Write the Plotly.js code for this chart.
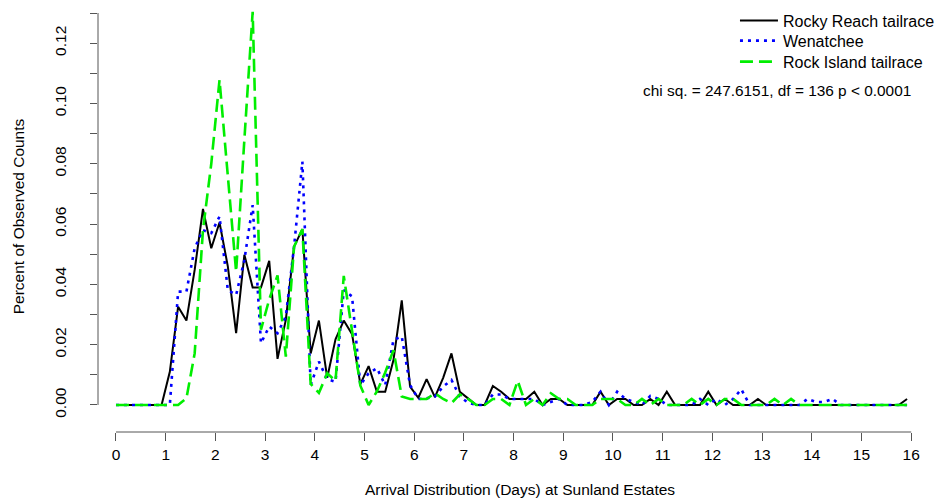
<!DOCTYPE html>
<html>
<head>
<meta charset="utf-8">
<script src="https://cdn.plot.ly/plotly-3.0.1.min.js"></script>
<style>
  html, body { margin: 0; padding: 0; background: #fff; }
  #chart { width: 942px; height: 500px; }
</style>
</head>
<body>
<div id="chart"></div>
<script>
// Bin midpoints (days)
const days = [0,
  0.083, 0.25, 0.417, 0.583, 0.75, 0.917,
  1.083, 1.25, 1.417, 1.583, 1.75, 1.917,
  2.083, 2.25, 2.417, 2.583, 2.75, 2.917,
  3.083, 3.25, 3.417, 3.583, 3.75, 3.917,
  4.083, 4.25, 4.417, 4.583, 4.75, 4.917,
  5.083, 5.25, 5.417, 5.583, 5.75, 5.917,
  6.083, 6.25, 6.417, 6.583, 6.75, 6.917,
  7.083, 7.25, 7.417, 7.583, 7.75, 7.917,
  8.083, 8.25, 8.417, 8.583, 8.75, 8.917,
  9.083, 9.25, 9.417, 9.583, 9.75, 9.917,
  10.083, 10.25, 10.417, 10.583, 10.75, 10.917,
  11.083, 11.25, 11.417, 11.583, 11.75, 11.917,
  12.083, 12.25, 12.417, 12.583, 12.75, 12.917,
  13.083, 13.25, 13.417, 13.583, 13.75, 13.917,
  14.083, 14.25, 14.417, 14.583, 14.75, 14.917,
  15.083, 15.25, 15.417, 15.583, 15.75, 15.917];

const rockyReach = [0,
  0, 0, 0, 0, 0, 0,
  0.011, 0.0326, 0.028, 0.0448, 0.065, 0.052,
  0.0605, 0.046, 0.0238, 0.0498, 0.039, 0.039,
  0.0478, 0.0153, 0.0282, 0.0525, 0.0583, 0.0171,
  0.028, 0.009, 0.0218, 0.028, 0.0235, 0.0069,
  0.0129, 0.0044, 0.0044, 0.0149, 0.0347, 0.0061,
  0.0024, 0.0086, 0.0026, 0.009, 0.0171, 0.0044,
  0.0022, 0, 0, 0.0063, 0.0044, 0.002,
  0.002, 0.002, 0.0044, 0, 0.002, 0.002,
  0, 0, 0, 0, 0.0044, 0,
  0.002, 0.002, 0, 0, 0.002, 0,
  0.0044, 0, 0, 0, 0, 0.0044,
  0, 0.002, 0, 0, 0, 0.002,
  0, 0, 0, 0, 0, 0,
  0, 0, 0, 0, 0, 0,
  0, 0, 0, 0, 0, 0.002];

const wenatchee = [0,
  0, 0, 0, 0, 0, 0,
  0, 0.0376, 0.0376, 0.052, 0.058, 0.057,
  0.0625, 0.0381, 0.0365, 0.0481, 0.0663, 0.0205,
  0.026, 0.0238, 0.0293, 0.0525, 0.0807, 0.0066,
  0.0144, 0.0085, 0.0077, 0.0381, 0.036, 0.0066,
  0.0105, 0.0122, 0.0066, 0.0216, 0.0227, 0.0066,
  0.002, 0.0022, 0.0028, 0.0061, 0.0083, 0.0028,
  0.0008, 0, 0, 0.0035, 0.0035, 0.002,
  0.002, 0.002, 0.002, 0, 0.001, 0.002,
  0, 0, 0, 0.001, 0.0044, 0,
  0.0044, 0.002, 0.001, 0, 0.003, 0.002,
  0, 0, 0, 0, 0.002, 0,
  0.002, 0, 0.002, 0.0052, 0, 0,
  0, 0, 0, 0, 0, 0.002,
  0.001, 0.001, 0.002, 0, 0, 0,
  0, 0, 0, 0, 0, 0];

const rockIsland = [0,
  0, 0, 0, 0, 0, 0,
  0, 0, 0.0022, 0.0171, 0.058, 0.08,
  0.1078, 0.075, 0.0442, 0.088, 0.1304, 0.025,
  0.035, 0.043, 0.016, 0.0525, 0.0583, 0.007,
  0.004, 0.0105, 0.008, 0.0428, 0.0238, 0.0064,
  0, 0.0045, 0.0108, 0.0182, 0.0028, 0.002,
  0.002, 0.002, 0.0039, 0.002, 0.0006, 0.0035,
  0.002, 0, 0, 0.002, 0.002, 0,
  0.008, 0, 0.002, 0, 0.0039, 0.002,
  0.002, 0, 0, 0, 0.002, 0.002,
  0.002, 0, 0, 0.002, 0, 0.002,
  0, 0, 0, 0.002, 0, 0.002,
  0, 0.002, 0.002, 0, 0, 0,
  0, 0.002, 0, 0.002, 0, 0,
  0, 0, 0, 0, 0, 0,
  0, 0, 0, 0, 0, 0];

const seriesNames = ['Rocky Reach tailrace', 'Wenatchee', 'Rock Island tailrace'];
const xTickVals = [0,1,2,3,4,5,6,7,8,9,10,11,12,13,14,15,16];
const yTickVals = [0,0.01,0.02,0.03,0.04,0.05,0.06,0.07,0.08,0.09,0.10,0.11,0.12,0.13];
const yTickText = ['0.00','','0.02','','0.04','','0.06','','0.08','','0.10','','0.12',''];
const statText = 'chi sq. = 247.6151, df = 136 p < 0.0001';

const FONT = '"Liberation Sans", Arial, Helvetica, sans-serif';

const traces = [
  {x: days, y: rockyReach, name: seriesNames[0], mode: 'lines', type: 'scatter', legend: 'legend',
   line: {color: '#000000', width: 2, dash: 'solid'}},
  {x: days, y: wenatchee, name: seriesNames[1], mode: 'lines', type: 'scatter', legend: 'legend2',
   line: {color: '#0000ff', width: 2.6, dash: '3px,5px'}},
  {x: days, y: rockIsland, name: seriesNames[2], mode: 'lines', type: 'scatter', legend: 'legend3',
   line: {color: '#00ee00', width: 2.6, dash: '13px,6px'}}
];

function legendAt(yPaper) {
  return {x: 0.7547, y: yPaper, xanchor: 'left', yanchor: 'top',
          bgcolor: 'rgba(0,0,0,0)', borderwidth: 0,
          font: {family: FONT, size: 16, color: '#000'},
          itemwidth: 38, tracegroupgap: 0};
}

const layout = {
  width: 942, height: 500,
  margin: {l: 98, r: 0, t: 1, b: 68, pad: 0},
  paper_bgcolor: '#ffffff', plot_bgcolor: '#ffffff',
  font: {family: FONT, size: 15.5, color: '#000000'},
  showlegend: true,
  legend: legendAt(0.9937),
  legend2: legendAt(0.9473),
  legend3: legendAt(0.8986),
  xaxis: {range: [-0.362, 16.62], tickmode: 'array', tickvals: xTickVals,
          ticks: 'outside', ticklen: 8, tickwidth: 1, tickcolor: '#555',
          showgrid: false, zeroline: false, showline: false, automargin: false,
          tickfont: {family: FONT, size: 15.5}, ticklabelstandoff: 0,
          title: {text: 'Arrival Distribution (Days) at Sunland Estates',
                  font: {family: FONT, size: 15.5}, standoff: 22}},
  yaxis: {range: [-0.00896, 0.13398], tickmode: 'array', tickvals: yTickVals, ticktext: yTickText,
          tickangle: -90, ticks: 'outside', ticklen: 7, tickwidth: 1, tickcolor: '#555',
          showgrid: false, zeroline: false, showline: false, automargin: false,
          tickfont: {family: FONT, size: 15.5}, ticklabelstandoff: 18,
          title: {text: 'Percent of Observed Counts', font: {family: FONT, size: 15.5}, standoff: 23}},
  shapes: [
    {type: 'line', xref: 'x', yref: 'paper', x0: 0, x1: 16, y0: 0, y1: 0,
     line: {color: '#555', width: 1}},
    {type: 'line', xref: 'paper', yref: 'y', x0: 0, x1: 0, y0: 0, y1: 0.13,
     line: {color: '#555', width: 1}}
  ],
  annotations: [
    {xref: 'paper', yref: 'paper', x: 0.8045, y: 0.7912, xanchor: 'center', yanchor: 'middle',
     showarrow: false, text: statText, font: {family: FONT, size: 15.4, color: '#000'}}
  ]
};

Plotly.newPlot('chart', traces, layout, {staticPlot: true, displayModeBar: false});
</script>
</body>
</html>
